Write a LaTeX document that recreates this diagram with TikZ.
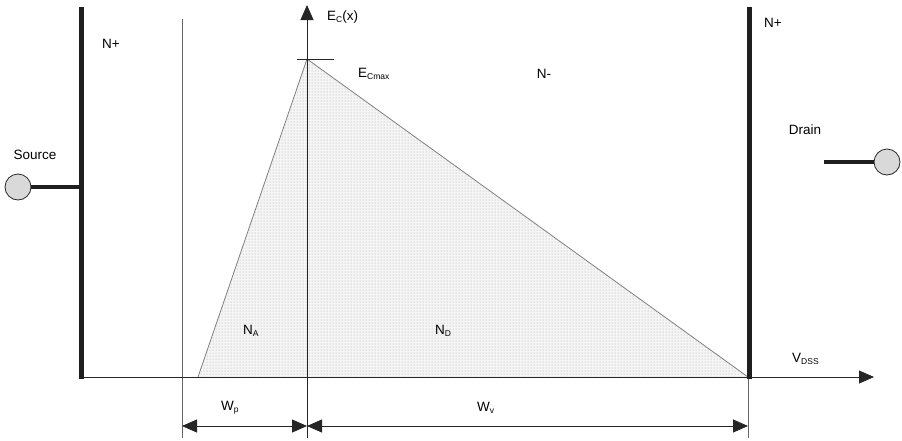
\documentclass[tikz,border=0pt]{standalone}
\usepackage{fontspec}
\setmainfont{Liberation Sans}
\usetikzlibrary{arrows.meta,patterns}
\newcommand{\lowtxt}[1]{\raisebox{-0.3ex}{\fontsize{8.5}{9}\selectfont #1}}
\begin{document}
\begin{tikzpicture}[x=1pt,y=-1pt,
  lbl/.style={inner sep=0pt,font=\fontsize{13.5}{16}\selectfont},
  bar/.style={line width=4.5pt,draw=black!88},
  thin/.style={line width=0.8pt,draw=black!60},
  axis/.style={line width=0.9pt,draw=black!85},
  edge/.style={line width=0.8pt,draw=black!50},
  tip/.style={-{Triangle[length=15pt,width=13pt]}},
  dim/.style={line width=0.9pt,draw=black!85,{Triangle[length=15pt,width=13pt]}-{Triangle[length=15pt,width=13pt]}},
  term/.style={circle,draw=black!85,line width=0.8pt,fill=black!15,minimum size=26pt,inner sep=0pt},
  lead/.style={line width=4pt,draw=black!88}]
\useasboundingbox (0,0) rectangle (902,440);
% coordinates
\coordinate (peak) at (307,59);
\coordinate (pa) at (198,377);
\coordinate (pb) at (748,377);
\coordinate (axl) at (80,377);
\coordinate (axr) at (874,377);
\coordinate (vtop) at (307,5);
\coordinate (vbot) at (307,438);
\coordinate (ltop) at (182,19);
\coordinate (lbot) at (182,438);
\coordinate (rbot) at (748,438);
\coordinate (sbt) at (81.5,7);
\coordinate (sbb) at (81.5,379);
\coordinate (dbt) at (749.5,7);
\coordinate (dbb) at (749.5,379);
\coordinate (sjoin) at (81.5,187);
\coordinate (dstart) at (824,162);
\coordinate (tickl) at (297,59);
\coordinate (tickr) at (334,59);
\coordinate (da) at (182,426);
\coordinate (db) at (307,426);
\coordinate (dc) at (748,426);
% dotted field region
\fill[black!4] (pa) -- (peak) -- (pb) -- cycle;
\fill[pattern=dots,pattern color=black!35] (pa) -- (peak) -- (pb) -- cycle;
\draw[edge] (pa) -- (peak) -- (pb);
% thin vertical lines
\draw[thin] (ltop) -- (lbot);
\draw[thin] (pb) -- (rbot);
% axes
\draw[axis] (axl) -- (pb);
\draw[axis,tip] (pb) -- (axr);
\draw[axis,tip] (vbot) -- (vtop);
\draw[axis] (tickl) -- (tickr);
% contact bars
\draw[bar] (sbt) -- (sbb);
\draw[bar] (dbt) -- (dbb);
% terminals
\node[term] (src) at (18,187) {};
\node[term] (drn) at (887,162) {};
\draw[lead] (src) -- (sjoin);
\draw[lead] (dstart) -- (drn);
% dimension arrows
\draw[dim] (da) -- (db);
\draw[dim] (db) -- (dc);
% labels
\node[lbl] (np1) at (111,44) {N+};
\node[lbl] (np2) at (773,23) {N+};
\node[lbl] (srct) at (35,155) {Source};
\node[lbl] (drnt) at (805,130) {Drain};
\node[lbl,anchor=west] (ec) at (327,17) {E\lowtxt{C}(x)};
\node[lbl,anchor=west] (ecm) at (358,74) {E\lowtxt{Cmax}};
\node[lbl] (nm) at (544,74) {N-};
\node[lbl,anchor=west] (na) at (243,331) {N\lowtxt{A}};
\node[lbl,anchor=west] (nd) at (435,331) {N\lowtxt{D}};
\node[lbl,anchor=west] (vdss) at (792,359) {V\lowtxt{DSS}};
\node[lbl,anchor=west] (wp) at (221,408) {W\lowtxt{p}};
\node[lbl,anchor=west] (wv) at (477,408) {W\lowtxt{v}};
\end{tikzpicture}
\end{document}
